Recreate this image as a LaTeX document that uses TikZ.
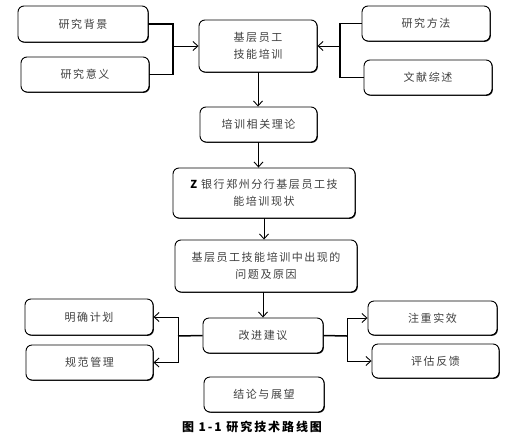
\documentclass[tikz,border=0pt]{standalone}
\usepackage{fontspec}
\newfontfamily\cjk[LetterSpace=14]{Noto Sans CJK SC}
\newfontfamily\cjkcap[LetterSpace=16]{Noto Sans CJK SC}
\usetikzlibrary{arrows.meta,shadows}

\tikzset{
        box/.style={
            draw, rounded corners=6pt, line width=0.9pt,
            drop shadow={shadow xshift=0.8pt, shadow yshift=-0.8pt, fill=black, opacity=1},
            fill=white, align=center, text=black!75,
            font=\cjk\fontsize{11}{17}\selectfont,
        },
        conn/.style={line width=1.5pt},
        arr/.style={line width=0.9pt, -{Straight Barb[length=5pt,width=9pt]}},
    }

\begin{document}
\begin{tikzpicture}[x=1pt,y=-1pt]
    \useasboundingbox (0,0) rectangle (521,442);

    %top row
    \node[box,minimum width=130,minimum height=36] (bj) at (83,24) {研究背景};
    \node[box,minimum width=128,minimum height=35] (yy) at (85,74.5) {研究意义};
    \node[box,minimum width=118,minimum height=52] (jn) at (258,46) {基层员工\\技能培训};
    \node[box,minimum width=128,minimum height=35] (ff) at (426,23.5) {研究方法};
    \node[box,minimum width=128,minimum height=35] (zs) at (428,77.5) {文献综述};
    %middle column
    \node[box,minimum width=117,minimum height=35] (ll) at (258.5,124.5) {培训相关理论};
    \node[box,minimum width=182,minimum height=50] (xz) at (264,193) {{\color{black}\bfseries Z} 银行郑州分行基层员工技\\能培训现状};
    \node[box,minimum width=182,minimum height=52] (wt) at (266,266) {基层员工技能培训中出现的\\问题及原因};
    \node[box,minimum width=120,minimum height=35] (jy) at (263,335.5) {改进建议};
    \node[box,minimum width=120,minimum height=35] (jl) at (264,394.5) {结论与展望};
    %bottom row
    \node[box,minimum width=128,minimum height=36] (mq) at (89,317) {明确计划};
    \node[box,minimum width=127,minimum height=35] (gf) at (89.5,362.5) {规范管理};
    \node[box,minimum width=129,minimum height=34] (sx) at (432.5,318) {注重实效};
    \node[box,minimum width=127,minimum height=34] (pg) at (435.5,361) {评估反馈};
    %caption
    \node[font=\cjkcap\bfseries\fontsize{12}{14}\selectfont] (cap) at (252,427) {图 1-1 研究技术路线图};

    %junctions
    \coordinate (ja) at (173,46);
    \coordinate (jb) at (340,46);
    \coordinate (jc) at (178,336);
    \coordinate (jd) at (347,336);

    %top connectors
    \draw[conn] (bj.east) -| (ja) |- (yy.east);
    \draw[arr] (ja) -- (jn.west);
    \draw[conn] (ff.west) -| (jb) |- (zs.west);
    \draw[arr] (jb) -- (jn.east);
    %down the middle
    \draw[arr] (jn.south) -- (jn.south |- ll.north);
    \draw[arr] (ll.south) -- (ll.south |- xz.north);
    \draw[arr] (xz.south) -- (xz.south |- wt.north);
    \draw[arr] (wt.south -| jy.north) -- (jy.north);
    %bottom connectors
    \draw[conn] (jy.west) -- (jc);
    \draw[arr] (jc) |- (mq.east);
    \draw[arr] (jc) |- (gf.east);
    \draw[conn] (jy.east) -- (jd);
    \draw[arr] (jd) |- (sx.west);
    \draw[arr] (jd) |- (pg.west);

\end{tikzpicture}
\end{document}
